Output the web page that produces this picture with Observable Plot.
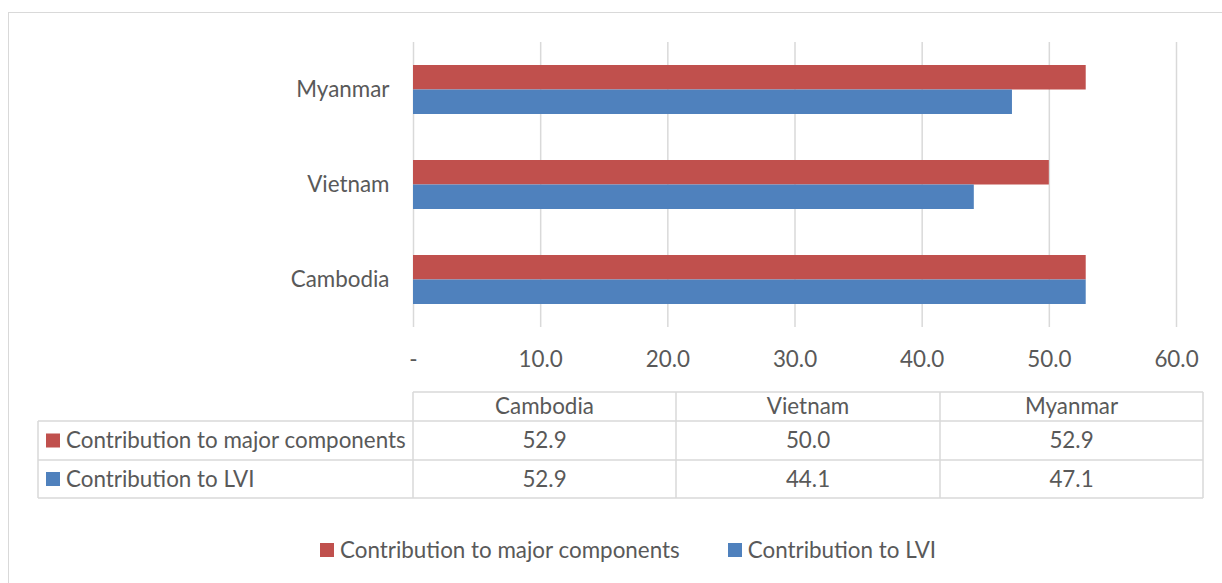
<!DOCTYPE html>
<html><head><meta charset="utf-8">
<script src="https://cdn.jsdelivr.net/npm/d3@7"></script>
<script src="https://cdn.jsdelivr.net/npm/@observablehq/plot@0.6"></script>
<style>
html,body{margin:0;padding:0;width:1222px;height:583px;overflow:hidden;background:#fff;font-family:Lato,sans-serif;color:#595959;}
#wrap{position:relative;width:1222px;height:583px;overflow:hidden;}
#frame{position:absolute;left:8px;top:12px;width:1400px;height:800px;border:1.5px solid #d9d9d9;box-sizing:border-box;}
#chart{position:absolute;left:0;top:0;}
#table{position:absolute;left:0;top:0;}
#legend{position:absolute;left:320px;top:536px;display:flex;align-items:center;font-size:22.4px;white-space:nowrap;}
#legend .item{display:flex;align-items:center;margin-right:48px;}
#legend .sw{width:14px;height:14px;margin-right:6px;}
</style>
</head><body>
<div id="wrap"><div id="frame"></div><div id="chart"></div><svg id="table" width="1222" height="583"></svg><div id="legend"></div></div>
<script>
const countries = ["Cambodia", "Vietnam", "Myanmar"];
const majorComponents = [52.9, 50.0, 52.9];
const lvi = [52.9, 44.1, 47.1];
const seriesNames = ["Contribution to major components", "Contribution to LVI"];
const seriesColors = ["#C0504D", "#4F81BD"];
const xTicks = [0, 10, 20, 30, 40, 50, 60];
const xTickLabels = ["-", "10.0", "20.0", "30.0", "40.0", "50.0", "60.0"];

const rowsMajor = countries.map((c, i) => ({country: c, series: seriesNames[0], value: majorComponents[i]}));
const rowsLvi = countries.map((c, i) => ({country: c, series: seriesNames[1], value: lvi[i]}));

const chart = Plot.plot({
  width: 1222, height: 380,
  marginTop: 42, marginBottom: 53, marginLeft: 413, marginRight: 46,
  style: {fontFamily: "Lato", fontSize: "22.4px", color: "#595959", background: "transparent", overflow: "visible"},
  x: {domain: [0, 60], label: null},
  y: {domain: [...countries].reverse(), paddingInner: 0.484, paddingOuter: 0.242, label: null},
  color: {domain: seriesNames, range: seriesColors},
  marks: [
    Plot.ruleX(xTicks, {stroke: "#d9d9d9", strokeWidth: 1.5, strokeOpacity: 1}),
    Plot.barX(rowsMajor, {x: "value", y: "country", fill: "series", insetBottom: 24.5}),
    Plot.barX(rowsLvi, {x: "value", y: "country", fill: "series", insetTop: 24.5}),
    Plot.axisX({ticks: xTicks, tickFormat: d => xTickLabels[xTicks.indexOf(d)], tickSize: 0, tickPadding: 24, label: null, fill: "#595959"}),
    Plot.axisY({tickSize: 0, tickPadding: 24, label: null, fill: "#595959"})
  ]
});
document.getElementById("chart").appendChild(chart);

// data table
const svg = d3.select("#table");
const colX = [413, 676, 940, 1203];
const rowY = [392, 421, 460, 498];
const labelX = 38;
const lc = "#d9d9d9";
const g = svg.append("g").attr("stroke", lc).attr("stroke-width", 1.5);
g.append("line").attr("x1", colX[0]).attr("x2", colX[3]).attr("y1", rowY[0]).attr("y2", rowY[0]);
for (let r = 1; r < 4; r++) g.append("line").attr("x1", labelX).attr("x2", colX[3]).attr("y1", rowY[r]).attr("y2", rowY[r]);
g.append("line").attr("x1", labelX).attr("x2", labelX).attr("y1", rowY[1]).attr("y2", rowY[3]);
colX.forEach(x => g.append("line").attr("x1", x).attr("x2", x).attr("y1", rowY[0]).attr("y2", rowY[3]));
const t = svg.append("g").attr("font-family", "Lato").attr("font-size", 22.4).attr("fill", "#595959");
countries.forEach((c, i) => {
  t.append("text").attr("x", (colX[i] + colX[i + 1]) / 2).attr("y", (rowY[0] + rowY[1]) / 2).attr("dy", "0.35em").attr("text-anchor", "middle").text(c);
  t.append("text").attr("x", (colX[i] + colX[i + 1]) / 2).attr("y", (rowY[1] + rowY[2]) / 2).attr("dy", "0.35em").attr("text-anchor", "middle").text(majorComponents[i].toFixed(1));
  t.append("text").attr("x", (colX[i] + colX[i + 1]) / 2).attr("y", (rowY[2] + rowY[3]) / 2).attr("dy", "0.35em").attr("text-anchor", "middle").text(lvi[i].toFixed(1));
});
seriesNames.forEach((s, k) => {
  const yc = (rowY[k + 1] + rowY[k + 2]) / 2;
  svg.append("rect").attr("x", 46).attr("y", yc - 7).attr("width", 14).attr("height", 14).attr("fill", seriesColors[k]);
  t.append("text").attr("x", 66).attr("y", yc).attr("dy", "0.35em").text(s);
});

// legend
const leg = d3.select("#legend");
seriesNames.forEach((s, k) => {
  const it = leg.append("div").attr("class", "item");
  it.append("div").attr("class", "sw").style("background", seriesColors[k]);
  it.append("span").text(s);
});
</script>
</body></html>
